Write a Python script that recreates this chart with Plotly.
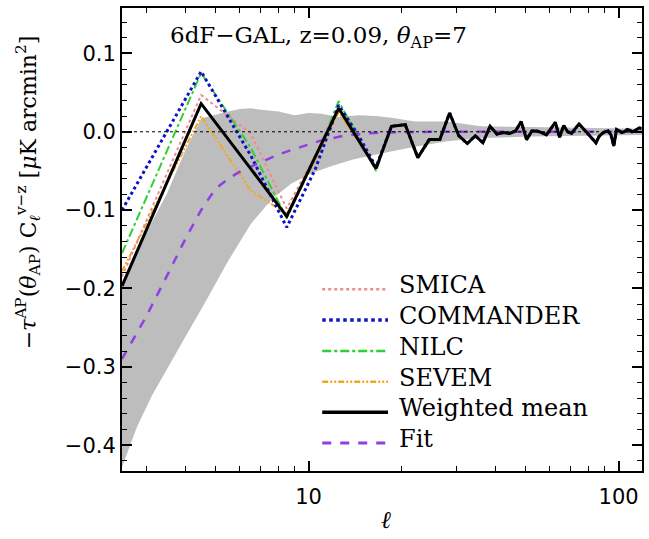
import plotly.graph_objects as go

# multipole bins
ell = [2.5, 4.5, 6.5, 8.5, 10.5, 12.5, 14.5, 16.5, 18.5, 20.5,
       22.5, 24.5, 26.5, 28.5, 30.5, 32.5, 34.5, 36.5, 38.5, 40.5,
       42.5, 44.5, 46.5, 48.5, 50.5, 52.5, 54.5, 56.5, 58.5, 60.5,
       62.5, 64.5, 66.5, 68.5, 70.5, 72.5, 74.5, 76.5, 78.5, 80.5,
       82.5, 84.5, 86.5, 88.5, 90.5, 92.5, 94.5, 96.5, 98.5, 100.5,
       102.5, 104.5, 106.5, 108.5, 110.5, 112.5, 114.5, 116.5, 118.5]

weighted_mean = [-0.197, 0.036, -0.047, -0.108, -0.032, 0.030, -0.011, -0.047, 0.007, 0.009,
                 -0.033, -0.010, -0.010, 0.024, -0.005, -0.015, -0.005, -0.014, 0.007, -0.003,
                 -0.001, -0.002, 0.001, 0.013, -0.010, 0.001, 0.001, -0.001, -0.004, 0.004,
                 0.012, -0.007, 0.008, 0.000, -0.002, 0.004, 0.010, 0.005, 0.000, -0.005,
                 -0.010, -0.014, -0.006, -0.002, 0.000, 0.001, -0.004, -0.018, 0.003, 0.001,
                 -0.001, 0.000, 0.003, 0.002, 0.000, 0.001, 0.003, 0.005, 0.004]

# low-ell values of the individual maps (high ell coincide with the weighted mean)
smica_low = [-0.185, 0.047, -0.002, -0.098, -0.030, 0.033, -0.010, -0.046]
commander_low = [-0.100, 0.077, -0.030, -0.122, -0.048, 0.034, -0.005, -0.045]
nilc_low = [-0.155, 0.075, -0.020, -0.110, -0.034, 0.039, -0.008, -0.050]
sevem_low = [-0.178, 0.020, -0.075, -0.105, -0.036, 0.025, -0.013, -0.046]
high_tail = weighted_mean[8:]

smica = smica_low + high_tail
commander = commander_low + high_tail
nilc = nilc_low + high_tail
sevem = sevem_low + high_tail

# fit curve
fit_ell = [2.5, 3.0, 3.5, 4.0, 4.5, 5.0, 5.5, 6.0, 7.0, 8.0, 9.0, 10.0, 11.0, 12.0,
           13.0, 14.5, 17.0, 25.0, 119.0]
fit_val = [-0.290, -0.235, -0.183, -0.137, -0.100, -0.073, -0.060, -0.051, -0.039,
           -0.029, -0.022, -0.016, -0.011, -0.008, -0.005, -0.003, -0.001, 0.0, 0.0]

# gray uncertainty band
band_hi_ell = [2.5, 3.0, 3.5, 4.0, 4.5, 5.0, 5.5, 6.0, 6.5, 7.0, 8.0, 9.0, 10.0, 11.0,
               12.5, 14.5, 16.5, 18.5, 22.0, 28.0, 36.0, 52.0, 80.0, 119.0]
band_hi = [-0.195, -0.128, -0.078, -0.024, 0.017, 0.022, 0.026, 0.029, 0.030, 0.028,
           0.026, 0.021, 0.024, 0.023, 0.019, 0.021, 0.020, 0.018, 0.013, 0.013,
           0.007, 0.006, 0.005, 0.004]
band_lo_ell = [2.5, 2.8, 3.13, 3.5, 4.0, 4.6, 5.5, 6.5, 7.6, 8.8, 10.2, 12.0, 14.0,
               16.5, 18.5, 22.0, 28.0, 36.0, 52.0, 80.0, 119.0]
band_lo = [-0.428, -0.376, -0.336, -0.303, -0.262, -0.220, -0.165, -0.118, -0.086,
           -0.066, -0.053, -0.043, -0.035, -0.029, -0.025, -0.019, -0.012, -0.008,
           -0.006, -0.005, -0.004]

names = ["SMICA", "COMMANDER", "NILC", "SEVEM", "Weighted mean", "Fit"]
colors = ["#f08a8a", "#1010c8", "#30d030", "#f0a820", "#000000", "#9040e0"]
dashes = ["dot", "dot", "dashdot", "6px,2px,2px,2px,2px,2px", "solid", "dash"]
widths = [2, 3, 2, 2, 3, 2.5]

fig = go.Figure()

fig.add_trace(go.Scatter(x=band_hi_ell, y=band_hi, mode="lines", line=dict(width=0, color="#bdbdbd"),
                         showlegend=False, hoverinfo="skip"))
fig.add_trace(go.Scatter(x=band_lo_ell, y=band_lo, mode="lines", line=dict(width=0, color="#bdbdbd"),
                         fill="tonexty", fillcolor="#bdbdbd", showlegend=False, hoverinfo="skip"))

series = {"SMICA": smica, "COMMANDER": commander, "NILC": nilc, "SEVEM": sevem}
for nm in ["SEVEM", "NILC", "SMICA", "COMMANDER"]:
    i = names.index(nm)
    fig.add_trace(go.Scatter(x=ell, y=series[nm], mode="lines", name=nm,
                             line=dict(color=colors[i], dash=dashes[i], width=widths[i]),
                             showlegend=False))

fig.add_trace(go.Scatter(x=fit_ell, y=fit_val, mode="lines", name="Fit",
                         line=dict(color=colors[5], dash=dashes[5], width=widths[5]),
                         showlegend=False))
fig.add_trace(go.Scatter(x=ell, y=weighted_mean, mode="lines", name="Weighted mean",
                         line=dict(color=colors[4], width=widths[4]), showlegend=False))

# zero line
fig.add_shape(type="line", xref="paper", yref="y", x0=0, x1=1, y0=0, y1=0,
              line=dict(color="black", width=1, dash="dot"), layer="above")

# manual legend
leg_y = [289.3, 320, 351, 381.7, 412.3, 443]
plot_top, plot_bot, plot_l, plot_r = 8, 471, 122, 644
H = plot_bot - plot_top
W = plot_r - plot_l
for nm, col, ds, wd, py in zip(names, colors, dashes, widths, leg_y):
    yp = (plot_bot - py) / H
    fig.add_shape(type="line", xref="paper", yref="paper",
                  x0=(323 - plot_l) / W, x1=(389 - plot_l) / W, y0=yp, y1=yp,
                  line=dict(color=col, dash=ds, width=wd + 0.5))
    fig.add_annotation(xref="paper", yref="paper", x=(398 - plot_l) / W, y=yp + 4 / H,
                       text=nm, showarrow=False, xanchor="left", yanchor="middle",
                       font=dict(family="DejaVu Serif", size=24, color="black"))

# title inside plot
fig.add_annotation(xref="paper", yref="paper", x=(168 - plot_l) / W, y=(plot_bot - 37) / H,
                   text="6dF\u2212GAL, z=0.09, <i>θ</i><sub>AP</sub>=7", showarrow=False,
                   xanchor="left", yanchor="middle",
                   font=dict(family="DejaVu Serif", size=23, color="black"))

# axis titles
fig.add_annotation(xref="paper", yref="paper", x=(387 - plot_l) / W, y=(plot_bot - 520) / H,
                   text="<i>ℓ</i>", showarrow=False, xanchor="center", yanchor="middle",
                   font=dict(family="DejaVu Serif", size=24, color="black"))
fig.add_annotation(xref="paper", yref="paper", x=(28 - plot_l) / W, y=(plot_bot - 192) / H,
                   text="\u2212<i>τ</i><sup>AP</sup>(<i>θ</i><sub>AP</sub>) C<sub><i>ℓ</i></sub><sup>v\u2212z</sup> [<i>μ</i>K arcmin<sup>2</sup>]",
                   showarrow=False, textangle=-90, xanchor="center", yanchor="middle",
                   font=dict(family="DejaVu Serif", size=22, color="black"))

minor_x = [3, 4, 5, 6, 7, 8, 9, 20, 30, 40, 50, 60, 70, 80, 90]
fig.update_xaxes(type="log", range=[0.39794, 2.0755], tickvals=[10, 100], ticktext=["10", "100"],
                 ticks="inside", ticklen=10, tickwidth=1.5, tickcolor="black",
                 minor=dict(tickvals=minor_x, ticks="inside", ticklen=5, tickcolor="black", tickwidth=1),
                 showline=True, linecolor="black", linewidth=2, mirror="allticks",
                 showgrid=False, zeroline=False, ticklabelstandoff=6,
                 tickfont=dict(family="DejaVu Sans", size=21, color="black"))
fig.update_yaxes(range=[-0.433, 0.158], tick0=0, dtick=0.1, tickformat=".1f",
                 ticks="inside", ticklen=10, tickwidth=1.5, tickcolor="black",
                 minor=dict(dtick=0.02, ticks="inside", ticklen=5, tickcolor="black", tickwidth=1),
                 showline=True, linecolor="black", linewidth=2, mirror="allticks",
                 showgrid=False, zeroline=False,
                 tickfont=dict(family="DejaVu Sans", size=21, color="black"))

fig.update_layout(width=649, height=539, margin=dict(l=122, r=5, t=8, b=68),
                  paper_bgcolor="white", plot_bgcolor="white", showlegend=False)

fig.write_html("out.html")
